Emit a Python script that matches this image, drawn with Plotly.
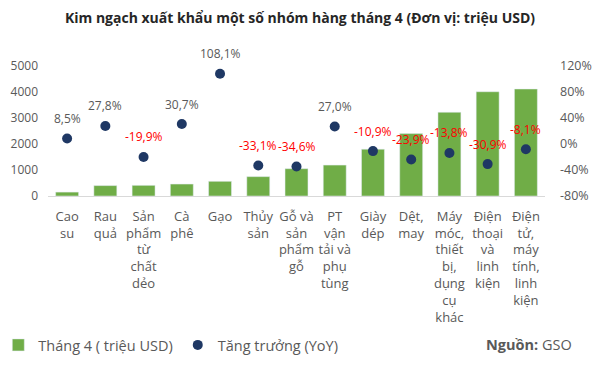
import plotly.graph_objects as go

categories = [
    "Cao<br>su", "Rau<br>quả", "Sản<br>phẩm<br>từ<br>chất<br>dẻo", "Cà<br>phê", "Gạo",
    "Thủy<br>sản", "Gỗ và<br>sản<br>phẩm<br>gỗ", "PT<br>vận<br>tải và<br>phụ<br>tùng",
    "Giày<br>dép", "Dệt,<br>may", "Máy<br>móc,<br>thiết<br>bị,<br>dụng<br>cụ<br>khác",
    "Điện<br>thoại<br>và<br>linh<br>kiện", "Điện<br>tử,<br>máy<br>tính,<br>linh<br>kiện",
]
export_value = [150, 400, 410, 460, 565, 745, 1050, 1190, 1800, 2400, 3220, 4010, 4115]
growth = [8.5, 27.8, -19.9, 30.7, 108.1, -33.1, -34.6, 27.0, -10.9, -23.9, -13.8, -30.9, -8.1]
left_ticks = [0, 1000, 2000, 3000, 4000, 5000]
right_ticks = [-80, -40, 0, 40, 80, 120]
right_ticktext = [f"{v}%" for v in right_ticks]

GRAY = "#595959"
FONT = "Open Sans"

fig = go.Figure()
fig.add_trace(go.Bar(
    x=categories, y=export_value, name="Tháng 4 ( triệu USD)",
    marker=dict(color="#70ad47"), width=0.6, yaxis="y",
))
fig.add_trace(go.Scatter(
    x=categories, y=growth, name="Tăng trưởng (YoY)", mode="markers",
    marker=dict(color="#1f3864", size=10), yaxis="y2",
))

annotations = []
for c, g in zip(categories, growth):
    annotations.append(dict(
        x=c, y=g, xref="x", yref="y2", yshift=20, showarrow=False,
        text=f"{g:.1f}".replace(".", ",") + "%",
        font=dict(family=FONT, size=12, color="#ff0000" if g < 0 else GRAY),
    ))
annotations.append(dict(
    x=1.058, y=-1.146, xref="paper", yref="paper", xanchor="right", yanchor="middle",
    showarrow=False, text="<b>Nguồn:</b> GSO",
    font=dict(family=FONT, size=14.5, color=GRAY),
))

fig.update_layout(
    width=600, height=369,
    margin=dict(l=40, r=63, t=58, b=181, autoexpand=False),
    paper_bgcolor="white", plot_bgcolor="white",
    font=dict(family=FONT, size=13, color=GRAY),
    title=dict(
        text="<b>Kim ngạch xuất khẩu một số nhóm hàng tháng 4 (Đơn vị: triệu USD)</b>",
        x=(300 - 8) / 600, xanchor="center", y=0.973, yanchor="middle",
        font=dict(family=FONT, size=14, color="#262626"),
    ),
    xaxis=dict(
        range=[-0.5, len(categories) - 0.5],
        showgrid=False, showline=True, linecolor="#d9d9d9", linewidth=1,
        ticks="", tickangle=0, ticklabelstandoff=8, automargin=False,
        tickfont=dict(family=FONT, size=13, color=GRAY),
    ),
    yaxis=dict(
        range=[0, 5000], tickvals=left_ticks, showgrid=False, zeroline=False,
        showline=False, ticklabelstandoff=9, automargin=False,
        tickfont=dict(family=FONT, size=12, color=GRAY),
    ),
    yaxis2=dict(
        range=[-80, 120], tickvals=right_ticks, ticktext=right_ticktext, overlaying="y",
        side="right", showgrid=False, zeroline=False, showline=False,
        ticklabelstandoff=14, automargin=False,
        tickfont=dict(family=FONT, size=12.5, color=GRAY),
    ),
    legend=dict(
        orientation="h", x=-0.1, xanchor="left", y=-1.146, yanchor="middle",
        font=dict(family=FONT, size=14.5, color=GRAY), bgcolor="rgba(0,0,0,0)",
        itemwidth=30,
    ),
    annotations=annotations,
)

fig.write_html("out.html")
